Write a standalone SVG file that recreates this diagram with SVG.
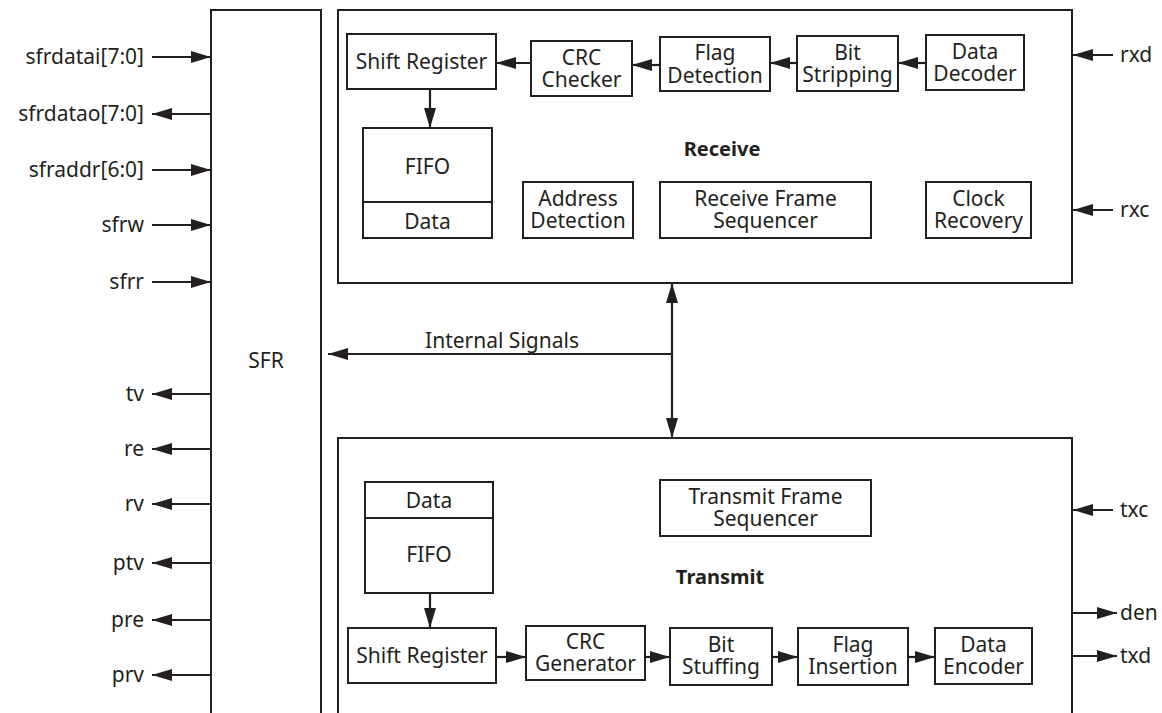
<svg xmlns="http://www.w3.org/2000/svg" width="1162" height="713" viewBox="0 0 1162 713">
<style>
.b{fill:#fff;stroke:#231f20;stroke-width:2}
.o{fill:none;stroke:#231f20;stroke-width:2}
.c{fill:none;stroke:#231f20;stroke-width:2.2}
text{font-family:"Noto Sans","Open Sans",sans-serif;font-size:21px;fill:#231f20}
.m{text-anchor:middle}
.r{text-anchor:end}
.bold{font-weight:bold;font-size:20px}
</style>
<defs>
<marker id="ah" viewBox="0 0 20 12" refX="20" refY="6" markerWidth="20" markerHeight="12" markerUnits="userSpaceOnUse" orient="auto-start-reverse">
<path d="M0,0 L20,6 L0,12 z" fill="#231f20"/>
</marker>
</defs>
<rect width="1162" height="713" fill="#fff"/>

<g id="sfr"><path class="o" d="M211,713 V10 H321 V713"/><text class="m" x="266" y="368">SFR</text></g>
<g id="receive"><rect class="o" x="338" y="10" width="734" height="273"/><text class="m bold" x="722" y="156">Receive</text></g>
<g id="transmit"><path class="o" d="M338,713 V438 H1072 V713"/><text class="m bold" x="720" y="584">Transmit</text></g>

<g id="rx-shift"><rect class="b" x="347" y="34" width="149" height="55"/><text class="m" x="421.5" y="69">Shift Register</text></g>
<g id="rx-crc"><rect class="b" x="531" y="41" width="101" height="55"/><text class="m" x="581.5" y="65">CRC</text><text class="m" x="581.5" y="87">Checker</text></g>
<g id="rx-flag"><rect class="b" x="660" y="37" width="110" height="54"/><text class="m" x="715" y="60">Flag</text><text class="m" x="715" y="83">Detection</text></g>
<g id="rx-bit"><rect class="b" x="797" y="36" width="101" height="55"/><text class="m" x="847.5" y="60">Bit</text><text class="m" x="847.5" y="82">Stripping</text></g>
<g id="rx-dec"><rect class="b" x="926" y="35" width="98" height="55"/><text class="m" x="975" y="59">Data</text><text class="m" x="975" y="81">Decoder</text></g>
<g id="rx-fifo"><rect class="b" x="363" y="128" width="129" height="110"/><line class="o" x1="363" y1="202" x2="492" y2="202"/><text class="m" x="427.5" y="174">FIFO</text><text class="m" x="427.5" y="229">Data</text></g>
<g id="rx-addr"><rect class="b" x="523" y="182" width="110" height="56"/><text class="m" x="578" y="206">Address</text><text class="m" x="578" y="228">Detection</text></g>
<g id="rx-seq"><rect class="b" x="660" y="182" width="211" height="56"/><text class="m" x="765.5" y="206">Receive Frame</text><text class="m" x="765.5" y="228">Sequencer</text></g>
<g id="rx-clk"><rect class="b" x="926" y="182" width="105" height="56"/><text class="m" x="978.5" y="206">Clock</text><text class="m" x="978.5" y="228">Recovery</text></g>

<g id="tx-fifo"><rect class="b" x="365" y="482" width="128" height="111"/><line class="o" x1="365" y1="518" x2="493" y2="518"/><text class="m" x="429" y="508">Data</text><text class="m" x="429" y="562">FIFO</text></g>
<g id="tx-seq"><rect class="b" x="660" y="480" width="211" height="56"/><text class="m" x="765.5" y="504">Transmit Frame</text><text class="m" x="765.5" y="526">Sequencer</text></g>
<g id="tx-shift"><rect class="b" x="348" y="628" width="148" height="55"/><text class="m" x="422" y="663">Shift Register</text></g>
<g id="tx-crc"><rect class="b" x="526" y="626" width="119" height="54"/><text class="m" x="585.5" y="649">CRC</text><text class="m" x="585.5" y="671">Generator</text></g>
<g id="tx-bit"><rect class="b" x="670" y="628" width="102" height="57"/><text class="m" x="721" y="652">Bit</text><text class="m" x="721" y="674">Stuffing</text></g>
<g id="tx-flag"><rect class="b" x="798" y="628" width="110" height="57"/><text class="m" x="853" y="652">Flag</text><text class="m" x="853" y="674">Insertion</text></g>
<g id="tx-enc"><rect class="b" x="935" y="628" width="97" height="56"/><text class="m" x="983.5" y="652">Data</text><text class="m" x="983.5" y="674">Encoder</text></g>

<g id="labels">
<text class="r" x="144" y="64">sfrdatai[7:0]</text>
<text class="r" x="144" y="121">sfrdatao[7:0]</text>
<text class="r" x="144" y="177">sfraddr[6:0]</text>
<text class="r" x="144" y="232">sfrw</text>
<text class="r" x="144" y="289">sfrr</text>
<text class="r" x="144" y="401">tv</text>
<text class="r" x="144" y="456">re</text>
<text class="r" x="144" y="511">rv</text>
<text class="r" x="144" y="570">ptv</text>
<text class="r" x="144" y="627">pre</text>
<text class="r" x="144" y="682">prv</text>
<text x="1120" y="62">rxd</text>
<text x="1120" y="217">rxc</text>
<text x="1120" y="517">txc</text>
<text x="1120" y="620">den</text>
<text x="1120" y="663">txd</text>
<text class="m" x="502" y="348">Internal Signals</text>
</g>

<g id="connectors" marker-end="url(#ah)">
<line class="c" x1="152" y1="57" x2="211" y2="57"/>
<line class="c" x1="211" y1="114" x2="152" y2="114"/>
<line class="c" x1="152" y1="170" x2="211" y2="170"/>
<line class="c" x1="152" y1="225" x2="211" y2="225"/>
<line class="c" x1="152" y1="282" x2="211" y2="282"/>
<line class="c" x1="211" y1="394" x2="152" y2="394"/>
<line class="c" x1="211" y1="449" x2="152" y2="449"/>
<line class="c" x1="211" y1="504" x2="152" y2="504"/>
<line class="c" x1="211" y1="563" x2="152" y2="563"/>
<line class="c" x1="211" y1="620" x2="152" y2="620"/>
<line class="c" x1="211" y1="675" x2="152" y2="675"/>
<line class="c" x1="1113" y1="55" x2="1073" y2="55"/>
<line class="c" x1="1113" y1="210" x2="1073" y2="210"/>
<line class="c" x1="1113" y1="510" x2="1073" y2="510"/>
<line class="c" x1="1072" y1="613" x2="1117" y2="613"/>
<line class="c" x1="1072" y1="656" x2="1117" y2="656"/>
<line class="c" x1="926" y1="63" x2="898" y2="63"/>
<line class="c" x1="797" y1="63" x2="770" y2="63"/>
<line class="c" x1="660" y1="65" x2="632" y2="65"/>
<line class="c" x1="531" y1="63" x2="496" y2="63"/>
<line class="c" x1="430" y1="89" x2="430" y2="128"/>
<line class="c" x1="430" y1="593" x2="430" y2="628"/>
<line class="c" x1="496" y1="657" x2="526" y2="657"/>
<line class="c" x1="645" y1="657" x2="670" y2="657"/>
<line class="c" x1="772" y1="657" x2="798" y2="657"/>
<line class="c" x1="908" y1="657" x2="935" y2="657"/>
<line class="c" x1="672" y1="283" x2="672" y2="438" marker-start="url(#ah)"/>
<line class="c" x1="672" y1="354" x2="328" y2="354"/>
</g>
</svg>
